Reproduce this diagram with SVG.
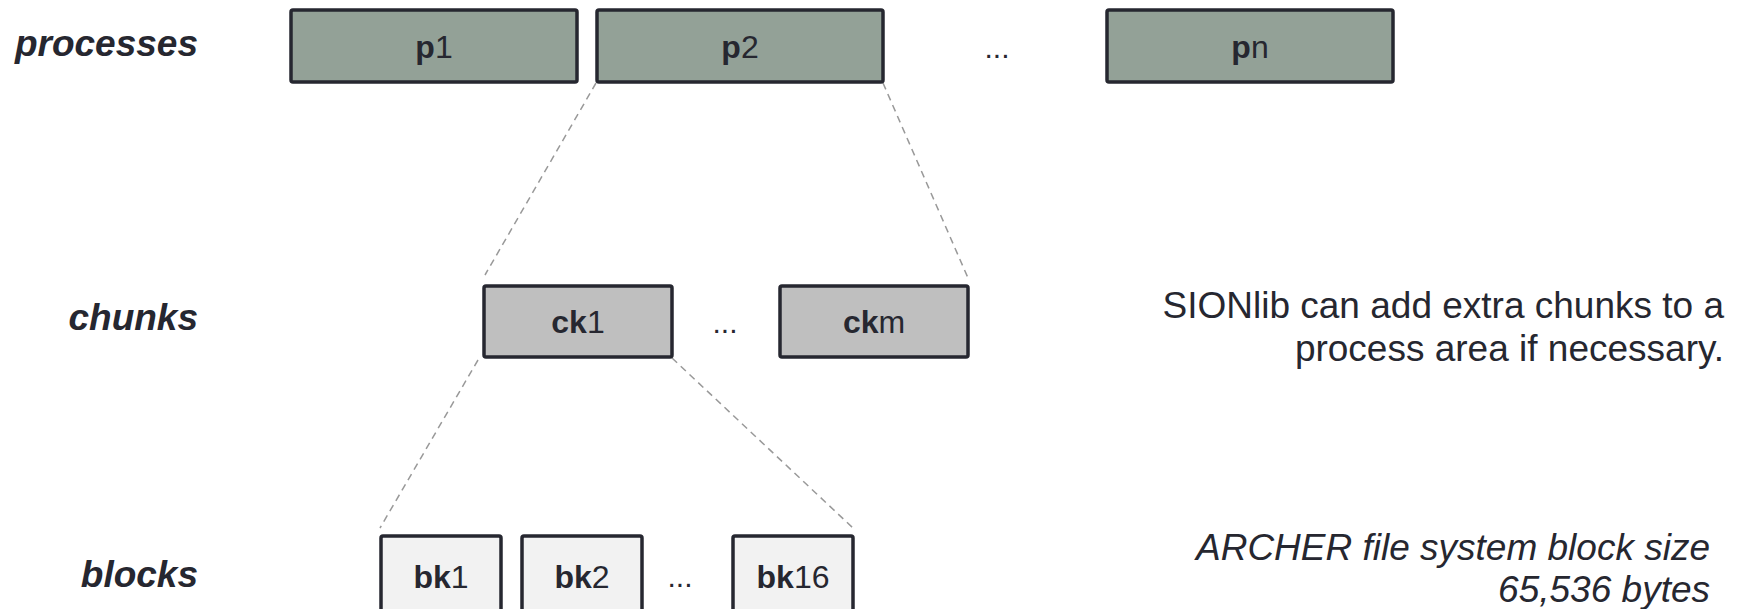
<svg xmlns="http://www.w3.org/2000/svg" width="1741" height="609" viewBox="0 0 1741 609">
  <style>
    .row { font-family: "Liberation Sans", Arial, sans-serif; font-size: 37px; font-style: italic; font-weight: bold; fill: #262730; text-anchor: end; }
    .box { stroke: #262730; stroke-width: 3.5; }
    .proc { fill: #93a197; }
    .chunk { fill: #bfbfbf; }
    .block { fill: #f2f2f2; }
    .lbl { font-family: "Liberation Sans", Arial, sans-serif; font-size: 32px; fill: #262730; text-anchor: middle; }
    .lbl .b { font-weight: bold; }
    .dots { font-family: "Liberation Sans", Arial, sans-serif; font-size: 30px; fill: #262730; text-anchor: middle; }
    .note { font-family: "Liberation Sans", Arial, sans-serif; font-size: 37px; fill: #262730; text-anchor: end; }
    .note.i { font-style: italic; }
    .zoom { stroke: #999999; stroke-width: 1.5; stroke-dasharray: 7 5; fill: none; }
  </style>
  <rect width="1741" height="609" fill="#ffffff"/>

  <!-- row titles -->
  <text class="row" x="198" y="56">processes</text>
  <text class="row" x="198" y="330">chunks</text>
  <text class="row" x="198" y="587">blocks</text>

  <!-- connectors: zoom-in guides from parent to children -->
  <g id="connectors">
    <line class="zoom" x1="596" y1="83" x2="485" y2="275"/>
    <line class="zoom" x1="883" y1="83" x2="968" y2="278"/>
    <line class="zoom" x1="478" y1="360" x2="380" y2="528"/>
    <line class="zoom" x1="672" y1="358" x2="853" y2="528"/>
  </g>

  <!-- processes -->
  <g id="p1">
    <rect class="box proc" x="291" y="10" width="286" height="72" rx="2"/>
    <text class="lbl" x="434" y="58"><tspan class="b">p</tspan>1</text>
  </g>
  <g id="p2">
    <rect class="box proc" x="597" y="10" width="286" height="72" rx="2"/>
    <text class="lbl" x="740" y="58"><tspan class="b">p</tspan>2</text>
  </g>
  <text class="dots" x="997" y="58">...</text>
  <g id="pn">
    <rect class="box proc" x="1107" y="10" width="286" height="72" rx="2"/>
    <text class="lbl" x="1250" y="58"><tspan class="b">p</tspan>n</text>
  </g>

  <!-- chunks -->
  <g id="ck1">
    <rect class="box chunk" x="484" y="286" width="188" height="71" rx="2"/>
    <text class="lbl" x="578" y="333"><tspan class="b">ck</tspan>1</text>
  </g>
  <text class="dots" x="725" y="333">...</text>
  <g id="ckm">
    <rect class="box chunk" x="780" y="286" width="188" height="71" rx="2"/>
    <text class="lbl" x="874" y="333"><tspan class="b">ck</tspan>m</text>
  </g>

  <!-- blocks -->
  <g id="bk1">
    <rect class="box block" x="381" y="536" width="120" height="80" rx="2"/>
    <text class="lbl" x="441" y="588"><tspan class="b">bk</tspan>1</text>
  </g>
  <g id="bk2">
    <rect class="box block" x="522" y="536" width="120" height="80" rx="2"/>
    <text class="lbl" x="582" y="588"><tspan class="b">bk</tspan>2</text>
  </g>
  <text class="dots" x="680" y="587">...</text>
  <g id="bk16">
    <rect class="box block" x="733" y="536" width="120" height="80" rx="2"/>
    <text class="lbl" x="793" y="588"><tspan class="b">bk</tspan>16</text>
  </g>

  <!-- notes -->
  <text class="note" x="1724" y="318">SIONlib can add extra chunks to a</text>
  <text class="note" x="1724" y="361">process area if necessary.</text>
  <text class="note i" x="1710" y="560">ARCHER file system block size</text>
  <text class="note i" x="1710" y="602">65,536 bytes</text>
</svg>
